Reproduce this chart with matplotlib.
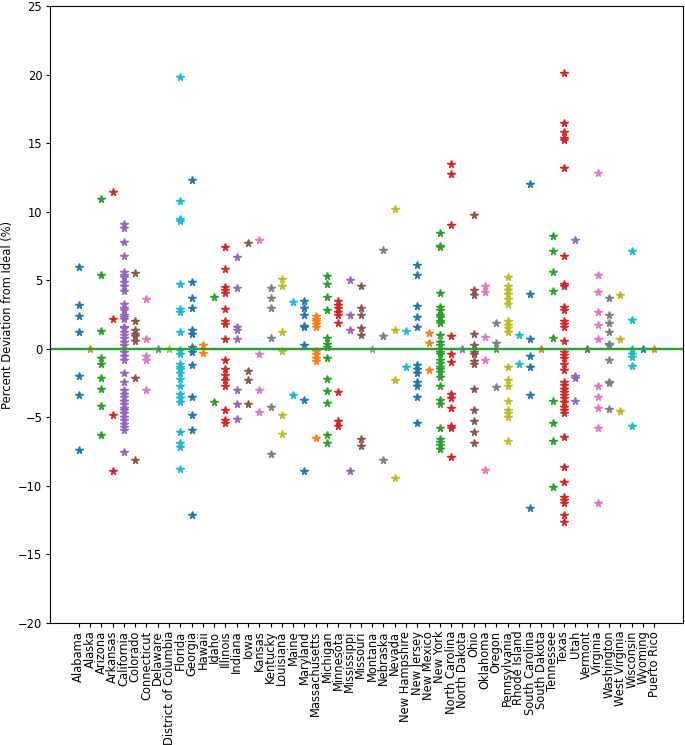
import matplotlib
matplotlib.use("Agg")
import matplotlib.pyplot as plt

states = ["Alabama", "Alaska", "Arizona", "Arkansas", "California", "Colorado",
          "Connecticut", "Delaware", "District of Columbia", "Florida", "Georgia",
          "Hawaii", "Idaho", "Illinois", "Indiana", "Iowa", "Kansas", "Kentucky",
          "Louisiana", "Maine", "Maryland", "Massachusetts", "Michigan", "Minnesota",
          "Mississippi", "Missouri", "Montana", "Nebraska", "Nevada", "New Hampshire",
          "New Jersey", "New Mexico", "New York", "North Carolina", "North Dakota",
          "Ohio", "Oklahoma", "Oregon", "Pennsylvania", "Rhode Island",
          "South Carolina", "South Dakota", "Tennessee", "Texas", "Utah", "Vermont",
          "Virginia", "Washington", "West Virginia", "Wisconsin", "Wyoming",
          "Puerto Rico"]

alabama = [6.0, 3.2, 2.4, 1.2, -2.0, -3.4, -7.4]
alaska = [0.0]
arizona = [10.9, 5.4, 1.3, -0.7, -1.1, -2.1, -2.9, -4.2, -6.3]
arkansas = [11.4, 2.2, -4.8, -8.9]
california = [9.1, 8.8, 7.8, 6.8, 5.6, 5.4, 5.2, 4.9, 4.6, 4.2, 3.3, 3.0, 2.8, 2.5,
              2.3, 2.2, 1.6, 1.5, 1.2, 1.0, 0.8, 0.5, 0.3, 0.0, -0.2, -0.5, -0.8,
              -1.8, -2.4, -3.0, -3.3, -3.5, -3.8, -4.0, -4.3, -4.5, -4.7, -5.0,
              -5.2, -5.5, -5.7, -5.9, -7.5]
colorado = [5.5, 2.0, 1.4, 1.1, 0.9, 0.6, -2.1, -8.1]
connecticut = [3.6, 0.7, -0.5, -0.8, -3.0]
delaware = [0.0]
district_of_columbia = [0.0]
florida = [19.8, 10.8, 9.5, 9.3, 4.7, 2.9, 2.7, 1.2, -0.1, -0.4, -1.1, -1.3, -1.5,
           -1.8, -2.2, -2.7, -3.3, -3.6, -3.9, -6.1, -6.9, -7.2, -8.8]
georgia = [12.3, 4.9, 3.7, 3.0, 1.35, 1.1, 0.1, -0.2, -1.2, -3.5, -4.8, -5.95, -12.1]
hawaii = [0.25, -0.3]
idaho = [3.8, -3.9]
illinois = [7.4, 5.8, 4.5, 4.3, 4.1, 2.9, 2.0, 1.8, 0.7, -0.8, -1.5, -1.9, -2.25,
            -2.7, -4.5, -5.2, -5.4]
indiana = [6.7, 4.4, 1.6, 1.4, 0.7, -3.0, -4.05, -5.1]
iowa = [7.7, -1.6, -2.25, -4.0]
kansas = [7.9, -0.4, -3.0, -4.6]
kentucky = [4.4, 3.7, 3.0, 0.75, -4.25, -7.7]
louisiana = [5.1, 4.6, 1.2, -0.15, -4.8, -6.2]
maine = [3.4, -3.4]
maryland = [3.5, 3.0, 2.5, 1.65, 1.6, 0.25, -3.7, -8.9]
massachusetts = [2.4, 2.2, 2.0, 1.8, 1.6, -0.15, -0.4, -0.65, -0.9, -6.5]
michigan = [5.3, 4.7, 3.8, 2.8, 0.75, 0.35, 0.15, -0.65, -2.2, -3.1, -3.95, -6.3, -6.9]
minnesota = [3.5, 3.2, 3.0, 2.7, 2.5, 1.85, -3.15, -5.3, -5.6]
mississippi = [5.0, 2.45, 1.4, -8.9]
missouri = [4.55, 3.0, 2.5, 1.5, 1.0, -6.55, -7.1]
montana = [0.0]
nebraska = [7.2, 0.9, -8.1]
nevada = [10.2, 1.4, -2.25, -9.4]
new_hampshire = [1.3, -1.3]
new_jersey = [6.1, 5.4, 3.1, 2.3, 1.6, -1.15, -1.5, -1.75, -2.4, -2.7, -3.5, -5.4]
new_mexico = [1.15, 0.4, -1.55]
new_york = [8.45, 7.5, 7.4, 4.1, 3.05, 2.8, 2.5, 2.3, 2.05, 1.85, 1.0, 0.5, 0.25,
            0.0, -0.2, -0.4, -0.8, -1.05, -1.3, -1.5, -1.7, -2.05, -2.75, -3.75,
            -4.05, -5.8, -6.55, -6.8, -7.05, -7.3]
north_carolina = [13.5, 12.75, 9.0, 0.9, -0.4, -1.0, -3.3, -3.6, -4.3, -5.6, -5.75, -7.9]
north_dakota = [0.0]
ohio = [9.75, 4.3, 3.9, 1.1, 0.25, -0.2, -0.35, -0.9, -1.1, -2.9, -4.5, -5.3, -6.1, -6.9]
oklahoma = [4.6, 4.15, 0.85, -0.8, -8.85]
oregon = [1.9, 0.4, 0.0, -2.8]
pennsylvania = [5.2, 4.55, 4.3, 4.0, 3.6, 3.3, 2.0, 1.7, 1.5, 1.2, -1.3, -2.25,
                -2.75, -3.8, -4.5, -4.7, -5.0, -6.7]
rhode_island = [1.0, -1.1]
south_carolina = [12.0, 4.0, 0.7, -0.5, -1.3, -3.4, -11.6]
south_dakota = [0.0]
tennessee = [8.2, 7.1, 5.6, 4.2, 0.75, -3.8, -5.4, -6.7, -10.1]
texas = [20.1, 16.5, 15.8, 15.4, 15.2, 13.15, 6.8, 4.75, 4.55, 3.05, 2.8, 2.0, 1.8,
         1.6, 0.6, -0.2, -0.45, -0.65, -1.1, -1.55, -2.4, -2.65, -2.9, -3.15, -3.4,
         -3.6, -3.9, -4.25, -4.5, -4.7, -6.4, -8.6, -9.7, -10.8, -11.0, -11.25,
         -12.1, -12.65]
utah = [7.95, -1.95, -2.15, -3.8]
vermont = [0.0]
virginia = [12.8, 5.4, 4.15, 2.7, 1.75, 0.7, -2.75, -3.55, -4.3, -5.8, -11.25]
washington = [3.7, 2.5, 1.9, 1.2, 0.35, 0.25, -0.85, -2.4, -2.5, -4.4]
west_virginia = [3.9, 0.7, -4.55]
wisconsin = [7.1, 2.1, -0.05, -0.35, -0.6, -1.25, -5.6]
wyoming = [0.0]
puerto_rico = [0.0]

series = [alabama, alaska, arizona, arkansas, california, colorado, connecticut,
          delaware, district_of_columbia, florida, georgia, hawaii, idaho, illinois,
          indiana, iowa, kansas, kentucky, louisiana, maine, maryland, massachusetts,
          michigan, minnesota, mississippi, missouri, montana, nebraska, nevada,
          new_hampshire, new_jersey, new_mexico, new_york, north_carolina,
          north_dakota, ohio, oklahoma, oregon, pennsylvania, rhode_island,
          south_carolina, south_dakota, tennessee, texas, utah, vermont, virginia,
          washington, west_virginia, wisconsin, wyoming, puerto_rico]

y_label = "Percent Deviation from Ideal (%)"

plt.rcParams['font.size'] = 8.3
plt.rcParams['xtick.major.size'] = 3
plt.rcParams['ytick.major.size'] = 3
plt.rcParams['axes.linewidth'] = 0.8

fig = plt.figure(figsize=(6.85, 7.45), dpi=100)
ax = fig.add_axes([50 / 685, 122 / 745, 633 / 685, 617 / 745])

for state, vals in zip(states, series):
    ax.plot([state] * len(vals), vals, '*', markersize=5.5)

ax.axhline(0, color='tab:green', lw=1.7)
ax.set_ylim(-20, 25)
ax.set_ylabel(y_label, labelpad=3)
ax.tick_params(axis='x', rotation=90, pad=2.5)
ax.tick_params(axis='y', pad=2.5)

fig.savefig("out.png", dpi=100)
